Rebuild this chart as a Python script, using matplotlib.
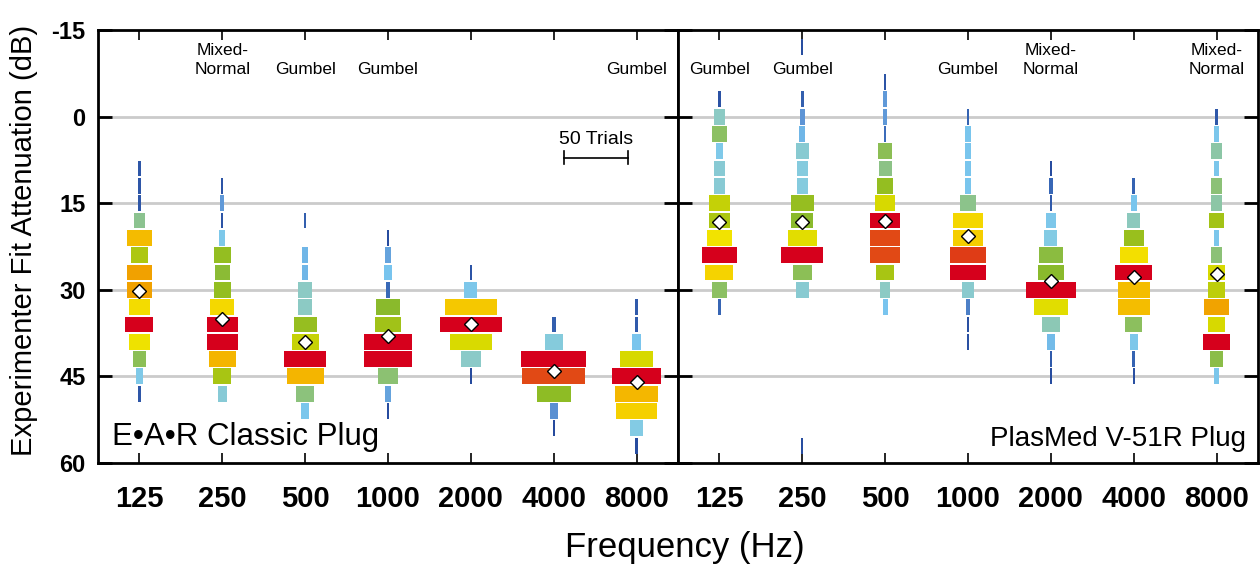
import numpy as np
import matplotlib.pyplot as plt
from matplotlib.colors import LinearSegmentedColormap

plt.rcParams['font.family'] = ['Liberation Sans', 'DejaVu Sans']
narrow = ['Liberation Sans Narrow', 'Liberation Sans', 'DejaVu Sans']

# Donnees
freqs = ['125', '250', '500', '1000', '2000', '4000', '8000']
bin_step = 3          # largeur des classes (dB)
trials_ref = 50       # barre d'echelle "50 Trials"

# E-A-R Classic : premiere classe (dB) et nombre d'essais par classe
ear_start = [9, 12, 18, 21, 27, 36, 33]
ear_counts = [
    [1, 1, 1, 9, 19, 13, 20, 20, 17, 22, 16, 10, 5, 1],
    [1, 3, 1, 5, 13, 12, 13, 19, 24, 24, 21, 14, 7],
    [2, 0, 5, 5, 11, 11, 18, 21, 33, 29, 14, 6],
    [1, 5, 6, 3, 19, 21, 37, 37, 16, 5, 1],
    [2, 10, 41, 49, 33, 16, 1],
    [3, 14, 51, 49, 27, 6, 1],
    [2, 2, 7, 26, 39, 34, 32, 10, 1],
]
ear_means = [30.2, 35.1, 39.1, 38.0, 35.9, 44.0, 46.0]
ear_fits = ['', 'Mixed-\nNormal', 'Gumbel', 'Gumbel', '', '', 'Gumbel']

# PlasMed V-51R
pm_start = [-3, -12, -6, 0, 9, 12, 0]
pm_counts = [
    [1, 9, 12, 6, 8, 8, 17, 16, 20, 27, 22, 12, 2],
    [1, 0, 0, 2, 4, 5, 10, 9, 9, 18, 17, 23, 33, 15, 10, 0, 0, 0, 0, 0, 0, 0, 0, 1],
    [1, 3, 3, 2, 11, 10, 13, 16, 24, 23, 23, 14, 8, 4],
    [2, 5, 5, 5, 5, 12, 23, 24, 28, 29, 9, 3, 1, 1],
    [1, 3, 2, 8, 10, 19, 20, 39, 27, 14, 6, 2, 1],
    [2, 5, 10, 16, 22, 29, 25, 25, 13, 6, 2, 1],
    [1, 4, 8, 4, 9, 8, 12, 4, 9, 14, 13, 19, 14, 21, 10, 4],
]
pm_means = [18.2, 18.2, 18.0, 20.7, 28.5, 27.8, 27.3]
pm_fits = ['Gumbel', 'Gumbel', '', 'Gumbel', 'Mixed-\nNormal', '', 'Mixed-\nNormal']

# Couleurs selon la part du maximum de la colonne
cmap = LinearSegmentedColormap.from_list('essais', [
    (0.00, '#1f3f94'), (0.08, '#3a6ab8'), (0.12, '#5c92d4'), (0.16, '#78c4ee'),
    (0.25, '#82cbe6'), (0.33, '#8ccac6'), (0.40, '#8cc49a'), (0.45, '#8cbf5a'),
    (0.52, '#8aba28'), (0.58, '#a6c414'), (0.66, '#d4d800'), (0.74, '#f2e300'),
    (0.82, '#f5d200'), (0.88, '#f4b400'), (0.92, '#f09a00'), (0.95, '#e45a14'),
    (0.98, '#dc2a18'), (1.00, '#d6001c')])

trial_w = 0.01538     # largeur d'un essai en unites de categorie
min_w = 0.028


def panel(ax, starts, counts, means, fits, name, name_x, name_ha, name_size):
    for i in range(len(freqs)):
        c = np.array(counts[i], dtype=float)
        y = starts[i] + bin_step * np.arange(len(c))
        keep = c > 0
        w = np.maximum(c * trial_w, min_w)[keep]
        ax.barh(y[keep], w, height=2.75, left=i + 0.5 - w / 2,
                color=cmap(c[keep] / c.max()), zorder=3)
        ax.plot(i + 0.5, means[i], 'D', mfc='white', mec='black', ms=7.5, mew=1.0, zorder=4)
        if fits[i]:
            ax.text(i + 0.5, -6.9, fits[i], ha='center', va='bottom', fontsize=12.5,
                    multialignment='center', linespacing=1.35)
    ax.set_xlim(0, 7)
    ax.set_ylim(60, -15)
    ax.set_yticks([-15, 0, 15, 30, 45, 60])
    ax.set_xticks(np.arange(7) + 0.5)
    ax.set_xticklabels(freqs, fontsize=21, fontweight='bold', family=narrow)
    for yg in [0, 15, 30, 45]:
        ax.axhline(yg, color='#cbcbcb', lw=2, zorder=1)
    ax.tick_params(axis='y', direction='in', length=10, width=2, left=True, right=True, pad=9)
    ax.tick_params(axis='x', direction='in', length=7, width=1.2, top=True, bottom=True, pad=16)
    for s in ax.spines.values():
        s.set_linewidth(2)
    ax.text(name_x, 0.025, name, transform=ax.transAxes, ha=name_ha, va='bottom',
            fontsize=name_size)


fig = plt.figure(figsize=(12.6, 5.76), dpi=100)
ax1 = fig.add_axes([98 / 1260, 113 / 576, 580 / 1260, 433 / 576])
ax2 = fig.add_axes([678 / 1260, 113 / 576, 580 / 1260, 433 / 576])

panel(ax1, ear_start, ear_counts, ear_means, ear_fits, 'E•A•R Classic Plug', 0.025, 'left', 22.5)
panel(ax2, pm_start, pm_counts, pm_means, pm_fits, 'PlasMed V-51R Plug', 0.98, 'right', 20)

ax1.set_yticklabels(['-15', '0', '15', '30', '45', '60'], fontsize=17, fontweight='bold', family=narrow)
ax2.tick_params(labelleft=False)

# Barre d'echelle
x0 = 5.624
ax1.plot([x0, x0 + trials_ref * trial_w], [7.1, 7.1], color='black', lw=1.2)
ax1.plot([x0, x0], [6.0, 8.2], color='black', lw=1.2)
ax1.plot([x0 + trials_ref * trial_w] * 2, [6.0, 8.2], color='black', lw=1.2)
ax1.text(x0 + trials_ref * trial_w / 2, 5.4, '50 Trials', ha='center', va='bottom', fontsize=14)

fig.text(24 / 1260, 1 - 240 / 576, 'Experimenter Fit Attenuation (dB)', rotation=90,
         ha='center', va='center', fontsize=21)
fig.text(685 / 1260, 1 - 548 / 576, 'Frequency (Hz)', ha='center', va='center', fontsize=25)

plt.savefig('out.png', dpi=100)
